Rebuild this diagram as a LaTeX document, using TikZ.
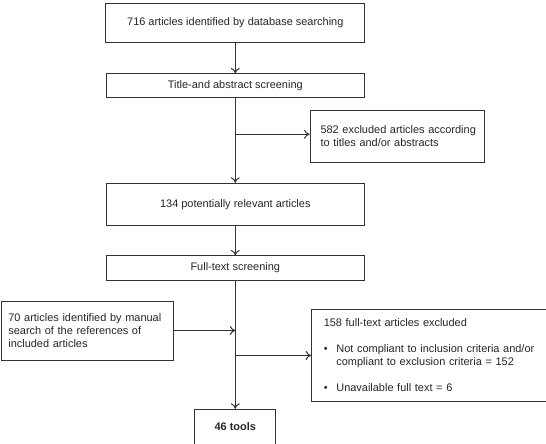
\documentclass[tikz,border=0pt]{standalone}
\usepackage{fontspec}
\setmainfont{Liberation Sans}
\usetikzlibrary{positioning,arrows.meta}

\tikzset{
  box/.style={draw=black!80, line width=1bp, text=black!85, inner sep=0pt,
    font=\fontsize{11}{13}\selectfont},
  leftbox/.style={box, align=left},
}

\begin{document}
\begin{tikzpicture}[x=1bp, y=-1bp, line width=1bp, draw=black!80,
  >={To[length=5.5bp,width=9bp]}]
\useasboundingbox (0,0) rectangle (546,444);
\clip (0,0) rectangle (546,444);

% main column
\node[box, minimum width=259bp, minimum height=39.4bp] (db) at (235.3,23)
  {716 articles identified by database searching};
\node[box, minimum width=258.5bp, minimum height=23.7bp] (title) at (235.3,85.8)
  {Title-and abstract screening};
\node[box, minimum width=257.5bp, minimum height=42bp] (relevant) at (235.3,204.3)
  {134 potentially relevant articles};
\node[box, minimum width=258bp, minimum height=24bp] (fulltext) at (235.3,268)
  {Full-text screening};
\node[box, minimum width=81bp, minimum height=35.4bp, font=\fontsize{11}{13}\selectfont\bfseries] (tools) at (235.3,427)
  {46 tools};

% side boxes
\node[leftbox, inner xsep=10.5bp, text width=153.3bp, minimum height=51.6bp] (excltitle) at (397.2,136.5)
  {\mbox{582 excluded articles according}\\\mbox{to titles and/or abstracts}};
\node[leftbox, inner xsep=7.3bp, text width=157.7bp, minimum height=59bp] (manual) at (87.2,330.5)
  {70 articles identified by manual\\search of the references of\\included articles};
\node[leftbox, inner xsep=12.1bp, text width=224.1bp, minimum height=92.4bp] (exclfull) at (435.8,355.5)
  {158 full-text articles excluded\\[13bp]
   \makebox[12.6bp][l]{\textbullet}Not compliant to inclusion criteria and/or\\
   \hspace*{12.6bp}compliant to exclusion criteria = 152\\[13bp]
   \makebox[12.6bp][l]{\textbullet}Unavailable full text = 6};

% connectors
\coordinate (split1) at (235.3,134.3);
\draw[->] (db) -- (title);
\draw[->] (title) -- (relevant);
\draw[->] (split1) -- (split1 -| excltitle.west);
\draw[->] (relevant) -- (fulltext);
\draw[->] (fulltext) -- (tools);
\draw[->] (manual.east) -- (manual.east -| fulltext.south);
\draw[->] (exclfull.west -| fulltext.south) -- (exclfull.west);
\end{tikzpicture}
\end{document}
